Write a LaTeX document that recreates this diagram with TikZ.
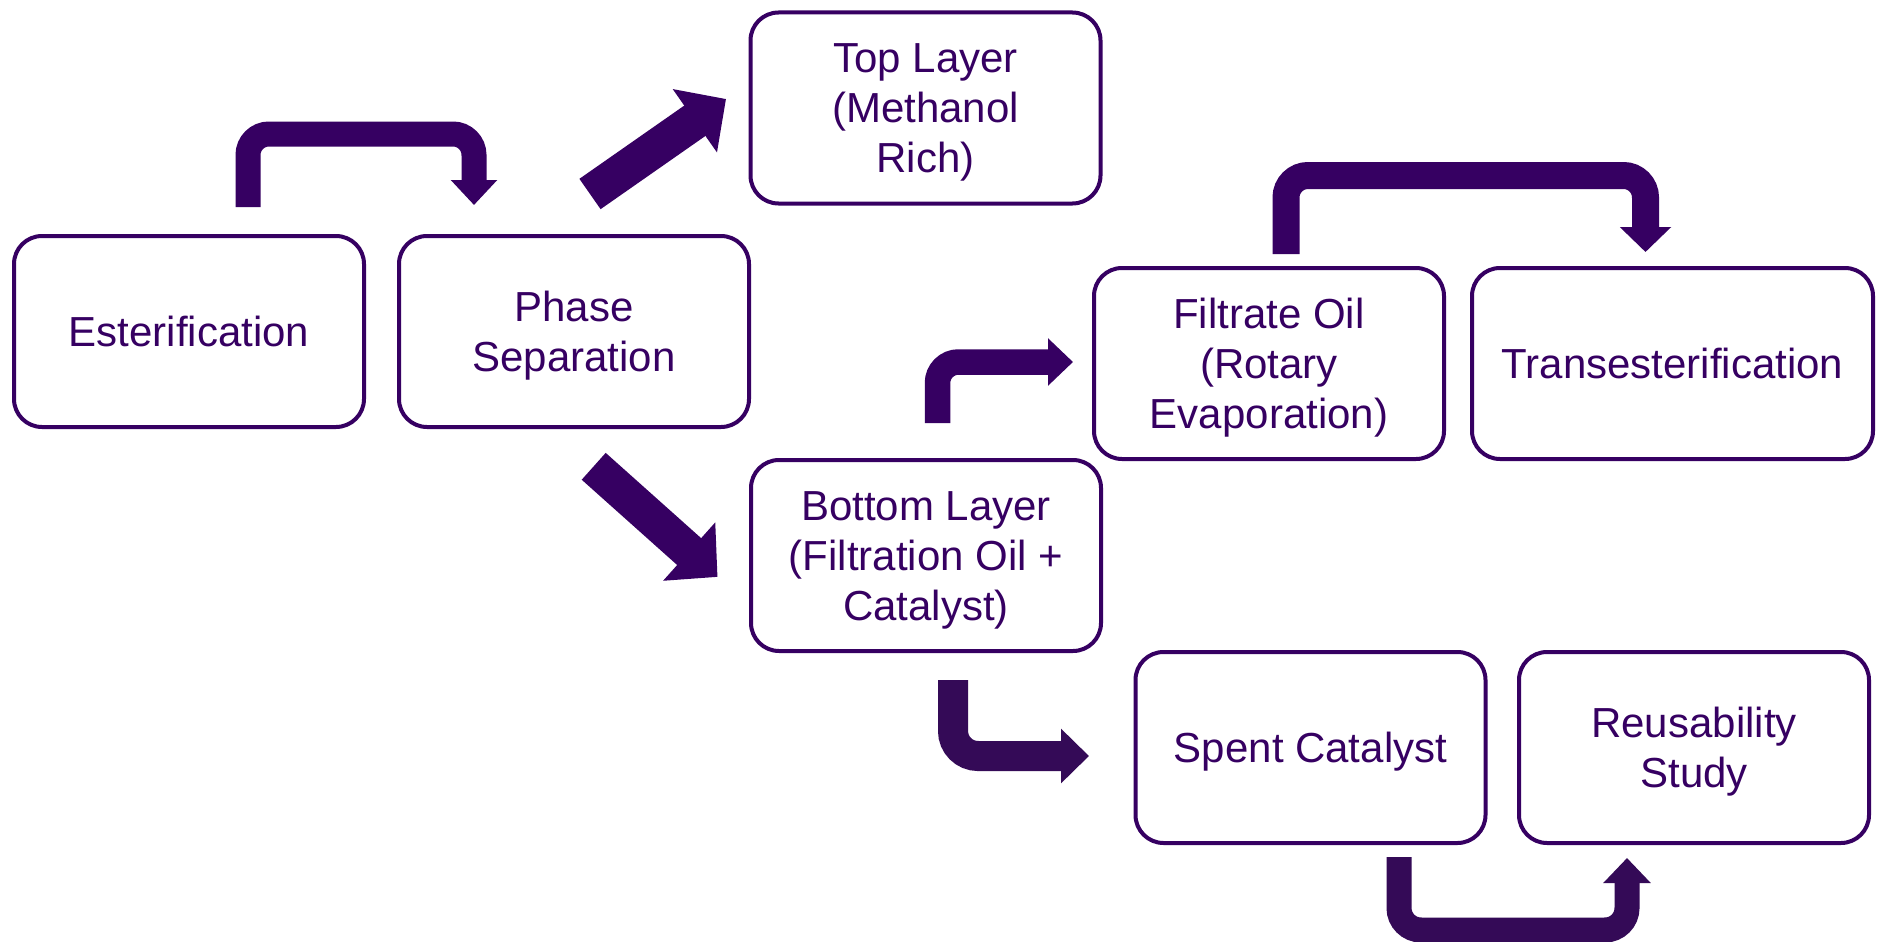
\documentclass[tikz,border=0pt]{standalone}
\usepackage{fontspec}
\setmainfont{Liberation Sans}
\usetikzlibrary{arrows.meta}
\definecolor{pc}{RGB}{54,0,98}
\definecolor{pcb}{RGB}{52,10,87}
\newcommand{\lnstrut}{\rule[-9pt]{0pt}{47pt}}
\begin{document}
\begin{tikzpicture}[x=1pt,y=-1pt,
  box/.style={draw=pc, line width=4pt, rounded corners=28pt, minimum width=350pt,
    minimum height=191pt, inner sep=0pt, align=center, text=pc,
    font=\fontsize{42}{50}\selectfont},
  bendarrow/.style={draw=pc, line width=25pt, rounded corners=21pt,
    -{Triangle[width=45pt,length=25pt]}},
  diagarrow/.style={draw=pc, line width=37pt,
    -{Triangle[width=75pt,length=38pt]}}]
\useasboundingbox (0,0) rectangle (1877,942);
\fill[white] (0,0) rectangle (1877,942);

% boxes
\node[box] (ester) at (189,331.5) {\lnstrut Esterification};
\node[box] (phase) at (574,331.5) {\lnstrut Phase\\\lnstrut Separation};
\node[box] (top) at (925.5,108) {\lnstrut Top Layer\\\lnstrut (Methanol\\\lnstrut Rich)};
\node[box] (bottom) at (926,555.5) {\lnstrut Bottom Layer\\\lnstrut (Filtration Oil +\\\lnstrut Catalyst)};
\node[box] (filtrate) at (1269,363.5) {\lnstrut Filtrate Oil\\\lnstrut (Rotary\\\lnstrut Evaporation)};
\node[box, minimum width=401pt] (trans) at (1672.5,363.5) {\lnstrut Transesterification};
\node[box] (spent) at (1310.5,747.5) {\lnstrut Spent Catalyst};
\node[box] (reus) at (1694,747.5) {\lnstrut Reusability\\\lnstrut Study};

% arrow end points
\coordinate (a1s) at (248,207);
\coordinate (a1e) at (474,205);
\coordinate (a2s) at (590,194);
\coordinate (a2e) at (726,99);
\coordinate (a3s) at (593.7,466.3);
\coordinate (a3e) at (717.5,576.9);
\coordinate (a4s) at (937.5,423);
\coordinate (a4e) at (1073,362);
\coordinate (a5s) at (1286,254);
\coordinate (a5e) at (1645.5,252);
\coordinate (a6s) at (953,680);
\coordinate (a6e) at (1089,756);
\coordinate (a7s) at (1399,857);
\coordinate (a7e) at (1627,858);

% Esterification -> Phase Separation
\draw[bendarrow] (a1s) -- (a1s |- 0,134) -- (a1e |- 0,134) -- (a1e);
% Phase Separation -> Top Layer
\draw[diagarrow] (a2s) -- (a2e);
% Phase Separation -> Bottom Layer
\draw[diagarrow, line width=36pt, -{Triangle[width=76pt,length=38pt]}] (a3s) -- (a3e);
% Bottom Layer -> Filtrate Oil
\draw[bendarrow, line width=25.5pt, -{Triangle[width=46pt,length=25pt]}] (a4s) -- (a4s |- a4e) -- (a4e);
% Filtrate Oil -> Transesterification
\draw[bendarrow, line width=27pt, rounded corners=22pt, -{Triangle[width=50pt,length=25pt]}]
  (a5s) -- (a5s |- 0,175.5) -- (a5e |- 0,175.5) -- (a5e);
% Bottom Layer -> Spent Catalyst
\draw[bendarrow, draw=pcb, line width=30pt, rounded corners=25pt, -{Triangle[width=53pt,length=28pt]}]
  (a6s) -- (a6s |- a6e) -- (a6e);
% Spent Catalyst -> Reusability Study
\draw[bendarrow, draw=pcb, line width=25pt, rounded corners=22pt, -{Triangle[width=46pt,length=25pt]}]
  (a7s) -- (a7s |- 0,930) -- (a7e |- 0,930) -- (a7e);
\end{tikzpicture}
\end{document}
